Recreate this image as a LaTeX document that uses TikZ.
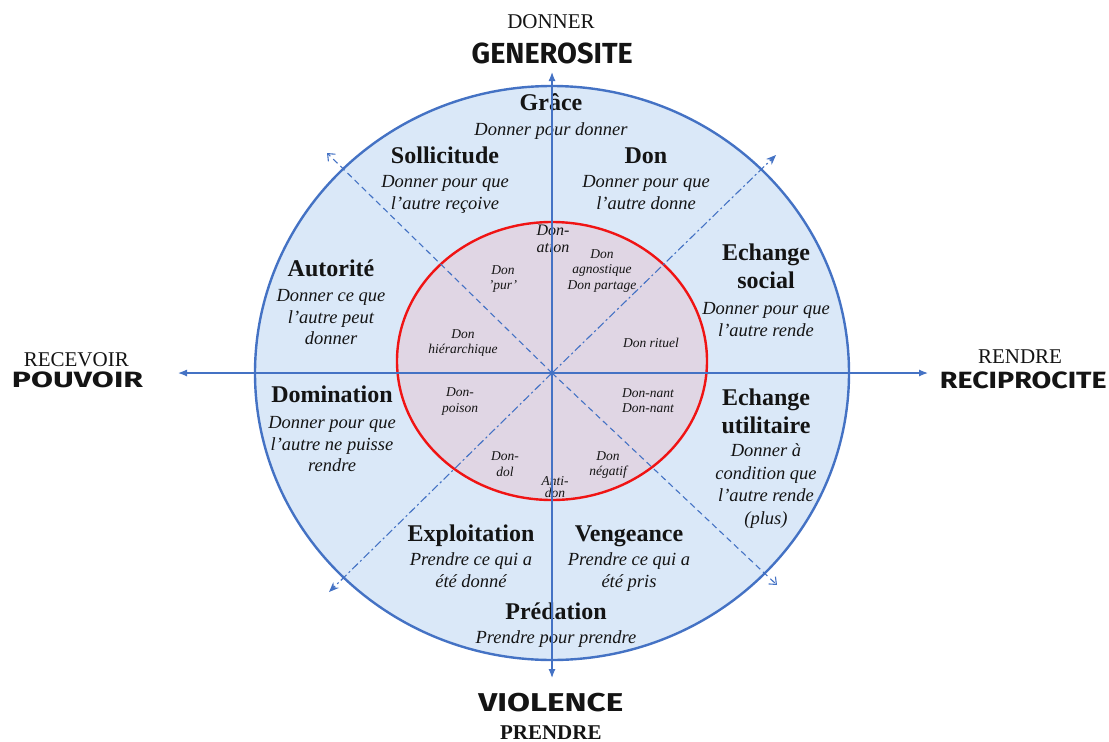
\documentclass[tikz,border=0pt]{standalone}
\usepackage{fontspec}
\setmainfont{Liberation Serif}
\newfontfamily\disp{Fira Sans}
\usepackage{graphicx}
\usetikzlibrary{arrows.meta}
\definecolor{outerfill}{RGB}{218,232,248}
\definecolor{innerfill}{RGB}{224,214,228}
\definecolor{axisblue}{RGB}{68,114,196}
\definecolor{ringred}{RGB}{240,20,20}
\definecolor{ink}{RGB}{20,20,20}
\begin{document}
\begin{tikzpicture}[x=1pt,y=-1pt,
  title/.style={font=\fontsize{24}{28}\selectfont\bfseries, align=center, anchor=base, inner sep=0pt, text=ink},
  desc/.style={font=\fontsize{18.5}{22}\selectfont\itshape, align=center, anchor=base, inner sep=0pt, text=ink},
  small/.style={font=\fontsize{13.5}{15.5}\selectfont\itshape, align=center, anchor=base, inner sep=0pt, text=ink},
  lab/.style={font=\fontsize{21}{24}\selectfont, anchor=base, inner sep=0pt, text=ink},
  big/.style={anchor=base, inner sep=0pt, text=ink},
  axis/.style={draw=axisblue, line width=1.2pt},
  diag/.style={draw=axisblue, line width=1.1pt}]
\useasboundingbox (0,0) rectangle (1109,742);
\coordinate (O) at (552,373);
\coordinate (IC) at (552,361);
\coordinate (N) at (552,72);
\coordinate (S) at (552,678);
\coordinate (W) at (178,373);
\coordinate (E) at (928,373);
\coordinate (NW) at (327,153);
\coordinate (SE) at (777,585);
\coordinate (NE) at (776,155);
\coordinate (SW) at (329,592);
% circles
\path[fill=outerfill] (O) ellipse [x radius=297, y radius=287];
\path[fill=innerfill, draw=ringred, line width=2.4pt] (IC) ellipse [x radius=155, y radius=139];
\path[draw=axisblue, line width=2.4pt] (O) ellipse [x radius=297, y radius=287];
% sector texts (anchor = baseline of the last line)
\node[title] (grace) at (551,110) {Grâce};
\node[desc] (graced) at (551,135.5) {Donner pour donner};
\node[title] (soll) at (445,163) {Sollicitude};
\node[desc] (solld) at (445,209.5) {Donner pour que\\l’autre reçoive};
\node[title] (don) at (646,163) {Don};
\node[desc] (dond) at (646,209.5) {Donner pour que\\l’autre donne};
\node[title] (echs) at (766,288) {Echange\\social};
\node[desc] (echsd) at (766,336.5) {Donner pour que\\l’autre rende};
\node[title] (auto) at (331,276) {Autorité};
\node[desc, font=\fontsize{18.5}{21.5}\selectfont\itshape] (autod) at (331,344.5) {Donner ce que\\l’autre peut\\donner};
\node[title] (domi) at (332,402) {Domination};
\node[desc, font=\fontsize{18.5}{21.5}\selectfont\itshape] (domid) at (332,471.5) {Donner pour que\\l’autre ne puisse\\rendre};
\node[title] (echu) at (766,433) {Echange\\utilitaire};
\node[desc, font=\fontsize{18.5}{22.7}\selectfont\itshape] (echud) at (766,524.6) {Donner à\\condition que\\l’autre rende\\(plus)};
\node[title] (expl) at (471,541) {Exploitation};
\node[desc] (expld) at (471,587.5) {Prendre ce qui a\\été donné};
\node[title] (veng) at (629,541) {Vengeance};
\node[desc] (vengd) at (629,587.5) {Prendre ce qui a\\été pris};
\node[title] (pred) at (556,619) {Prédation};
\node[desc] (predd) at (556,643.5) {Prendre pour prendre};
% inner texts
\node[small, font=\fontsize{16}{17}\selectfont\itshape] (donation) at (553,252.5) {Don-\\ation};
\node[small] (pur) at (503,289.5) {Don\\’pur’};
\node[small] (agn) at (602,289.3) {Don\\agnostique\\Don partage};
\node[small] (hier) at (463,353.8) {Don\\hiérarchique};
\node[small] (rit) at (651,347.7) {Don rituel};
\node[small] (pois) at (460,412.2) {Don-\\poison};
\node[small] (nant) at (648,412.8) {Don-nant\\Don-nant};
\node[small] (dol) at (505,476.2) {Don-\\dol};
\node[small] (neg) at (608,475.5) {Don\\négatif};
\node[small, font=\fontsize{13.5}{12.5}\selectfont\itshape] (anti) at (555,497.5) {Anti-\\don};
% outer labels
\node[lab] (donner) at (551,28.3) {DONNER};
\node[big] (gen) at (552.2,63.3) {\resizebox{161pt}{20.6pt}{\disp\bfseries GENEROSITE}};
\node[lab] (recev) at (76.3,366.7) {RECEVOIR};
\node[big] (pouv) at (77.5,387.3) {\resizebox{131pt}{15.7pt}{\disp\bfseries POUVOIR}};
\node[lab] (rendre) at (1020,363.3) {RENDRE};
\node[big] (recip) at (1023.3,388.3) {\resizebox{166.7pt}{16.7pt}{\disp\bfseries RECIPROCITE}};
\node[big] (viol) at (550.8,711.7) {\resizebox{145pt}{18.3pt}{\disp\bfseries VIOLENCE}};
\node[lab, font=\fontsize{21}{24}\selectfont\bfseries] (prendre) at (550.8,739.3) {PRENDRE};
% axes
\draw[axis, {Latex[length=9pt,width=7pt]}-{Latex[length=9pt,width=7pt]}] (S) -- (N);
\draw[axis, {Latex[length=9pt,width=7pt]}-{Latex[length=9pt,width=7pt]}] (W) -- (E);
% diagonals
\draw[diag, dash pattern=on 6pt off 4pt, -{Straight Barb[length=6pt,width=10pt]}] (O) -- (NW);
\draw[diag, dash pattern=on 6pt off 4pt, -{Straight Barb[length=6pt,width=10pt]}] (O) -- (SE);
\draw[diag, dash pattern=on 8pt off 3pt on 2pt off 3pt, -{Stealth[length=10pt,width=8pt]}] (O) -- (NE);
\draw[diag, dash pattern=on 8pt off 3pt on 2pt off 3pt, -{Stealth[length=10pt,width=8pt]}] (O) -- (SW);
\end{tikzpicture}
\end{document}
